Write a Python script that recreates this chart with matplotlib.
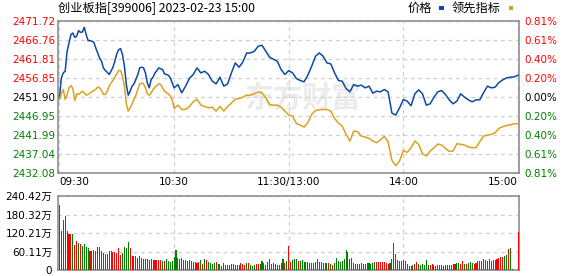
import numpy as np
import matplotlib
matplotlib.use("Agg")
import matplotlib.pyplot as plt
from matplotlib.patches import Rectangle

plt.rcParams['font.family'] = ['DejaVu Sans', 'Noto Sans CJK SC']

# minutes after 09:30 (lunch break removed): 1-min reads in the first hour, 2-min after
t_price = np.r_[0:61, 62:241:2]

price = [
    2451.73, 2456.94, 2458.24, 2458.68, 2463.89, 2466.06, 2468.24, 2468.67, 2467.54, 2467.80,
    2469.28, 2468.85, 2468.93, 2470.15, 2468.24, 2466.67, 2466.67, 2466.50, 2466.24, 2464.76,
    2463.46, 2462.15, 2461.29, 2459.55, 2458.85, 2458.42, 2457.81, 2458.68, 2459.72, 2461.29,
    2463.20, 2464.33, 2464.59, 2463.02, 2459.98, 2455.20, 2452.42, 2453.46, 2454.77, 2455.38,
    2456.51, 2457.81, 2459.55, 2459.72, 2459.55, 2458.24, 2455.64, 2454.33, 2456.51, 2457.11,
    2458.24, 2458.85, 2459.55, 2459.29, 2459.11, 2457.98, 2457.81, 2457.64, 2456.94, 2455.64,
    2454.33,
    2455.20, 2453.03, 2454.77, 2456.77, 2457.81, 2459.55, 2458.24, 2458.68, 2457.81, 2456.07,
    2455.38, 2457.11, 2454.77, 2455.38, 2458.24, 2460.85, 2459.72, 2461.11, 2463.46, 2463.46,
    2463.89, 2465.20, 2465.46, 2463.89, 2462.33, 2461.81, 2461.29, 2459.11, 2457.81, 2458.85,
    2458.24, 2456.77, 2456.25, 2455.90, 2457.64, 2459.98, 2462.59, 2463.46, 2462.59, 2460.85,
    2460.59, 2458.24, 2456.25, 2456.07, 2454.16, 2453.29, 2455.20, 2454.77, 2455.03, 2454.33,
    2454.77, 2452.94, 2453.46, 2453.29, 2453.90, 2453.29, 2447.73, 2447.21, 2449.12, 2451.29,
    2450.86, 2449.64, 2452.77, 2453.81, 2452.77, 2449.81, 2450.16, 2451.90, 2453.29, 2453.64,
    2452.60, 2451.20, 2450.16, 2450.86, 2452.77, 2451.90, 2451.20, 2450.68, 2451.20, 2451.20,
    2453.12, 2454.77, 2454.33, 2454.51, 2455.72, 2456.42, 2456.94, 2457.11, 2457.20, 2457.64,
]

lead = [
    2451.29, 2452.77, 2453.90, 2451.29, 2452.60, 2454.33, 2454.94, 2454.16, 2451.03, 2452.77,
    2452.60, 2453.03, 2453.46, 2453.03, 2452.42, 2452.60, 2453.03, 2453.29, 2453.64, 2453.90,
    2454.51, 2454.33, 2453.64, 2452.60, 2452.60, 2453.46, 2454.77, 2455.64, 2456.25, 2457.11,
    2457.98, 2458.85, 2458.85, 2457.37, 2454.77, 2450.16, 2448.25, 2449.12, 2450.16, 2451.29,
    2452.42, 2453.90, 2455.38, 2455.55, 2455.38, 2454.33, 2452.77, 2452.42, 2453.03, 2453.90,
    2454.51, 2454.94, 2455.38, 2455.20, 2454.33, 2453.46, 2453.03, 2452.77, 2452.16, 2451.29,
    2448.95,
    2449.81, 2448.68, 2448.68, 2449.47, 2450.68, 2451.38, 2449.81, 2449.47, 2449.12, 2449.29,
    2448.25, 2449.47, 2448.25, 2449.47, 2450.34, 2451.38, 2451.55, 2451.90, 2452.42, 2452.42,
    2452.77, 2453.29, 2453.03, 2451.73, 2449.99, 2449.81, 2449.81, 2449.29, 2448.25, 2447.21,
    2446.95, 2445.03, 2444.60, 2444.08, 2445.21, 2447.38, 2448.42, 2448.60, 2448.68, 2448.68,
    2448.25, 2446.34, 2445.12, 2444.34, 2442.17, 2440.43, 2443.04, 2442.86, 2441.73, 2441.47,
    2441.12, 2440.43, 2439.99, 2440.69, 2441.65, 2440.26, 2435.39, 2434.00, 2435.22, 2438.00,
    2437.47, 2438.69, 2440.43, 2439.56, 2437.13, 2436.52, 2437.82, 2438.69, 2439.65, 2439.39,
    2438.52, 2437.74, 2437.82, 2439.73, 2439.56, 2439.39, 2438.86, 2438.69, 2438.69, 2440.26,
    2441.73, 2441.99, 2442.17, 2442.60, 2443.73, 2444.17, 2444.51, 2444.69, 2444.95, 2444.95,
]

# volume per minute (万手), 1 = up (red), 0 = down (green)
volume = [
    211.3, 127.4, 161.6, 174.0, 127.4, 118.1, 118.1, 118.1, 80.8, 93.2,
    89.1, 83.9, 76.7, 83.9, 74.6, 71.5, 61.1, 63.0, 65.3, 61.1,
    74.6, 74.6, 61.1, 55.9, 52.8, 50.8, 62.2, 61.1, 59.1, 59.1,
    55.9, 71.5, 49.7, 55.9, 74.6, 71.5, 90.1, 71.5, 46.6, 46.6,
    44.5, 38.3, 46.6, 40.4, 37.3, 37.3, 35.0, 32.1, 37.3, 32.1,
    33.2, 33.2, 31.1, 32.1, 28.0, 28.0, 37.3, 30.0, 24.9, 28.0,
    43.5,
    65.3, 40.4, 35.2, 40.4, 31.1, 31.1, 28.0, 31.1, 28.0, 25.9,
    25.9, 22.8, 25.9, 31.1, 18.6, 37.3, 31.1, 24.9, 21.8, 18.6,
    21.8, 24.9, 18.6, 18.6, 12.4, 21.8, 15.5, 15.5, 15.5, 18.6,
    18.6, 15.5, 15.5, 15.5, 21.8, 18.6, 15.5, 21.8, 21.8, 15.5,
    12.4, 15.5, 18.6, 18.6, 18.6, 28.0, 21.8, 15.5, 24.9, 34.2,
    18.6, 21.8, 18.6, 15.5, 15.5, 21.8, 34.2, 21.8, 28.0, 77.7,
    24.9, 33.2, 35.2, 37.3, 28.0, 28.0, 33.2, 24.9, 24.9, 24.9,
    21.8, 21.8, 21.8, 24.9, 37.3, 24.9, 24.9, 21.8, 21.8, 21.8,
    21.8, 18.6, 15.5, 21.8, 39.4, 28.0, 24.9, 28.0, 37.3, 65.3,
    59.1, 37.3, 40.4, 21.8, 18.6, 18.6, 18.6, 21.8, 18.6, 18.6,
    21.8, 21.8, 18.6, 21.8, 24.9, 24.9, 24.9, 24.9, 24.9, 24.9,
    21.8, 18.6, 21.8, 37.3, 87.0, 52.8, 31.1, 28.0, 28.0, 31.1,
    30.0, 18.6, 12.4, 12.4, 15.5, 18.6, 24.9, 18.6, 15.5, 18.6,
    15.5, 31.1, 15.5, 15.5, 18.6, 15.5, 12.4, 15.5, 15.5, 15.5,
    12.4, 15.5, 15.5, 15.5, 15.5, 18.6, 18.6, 21.8, 21.8, 18.6,
    28.0, 18.6, 18.6, 21.8, 24.9, 21.8, 18.6, 21.8, 28.0, 28.0,
    28.0, 37.3, 31.1, 28.0, 34.2, 28.0, 31.1, 31.1, 34.2, 40.4,
    43.5, 43.5, 46.6, 49.7, 68.4, 71.5, 2.0, 0.0, 0.0, 124.3,
]
vol_up = [
    1, 1, 1, 1, 1, 1, 1, 0, 1, 1,
    0, 1, 0, 0, 0, 0, 1, 1, 1, 0,
    0, 0, 1, 0, 0, 0, 0, 1, 1, 1,
    1, 1, 1, 0, 0, 0, 0, 1, 1, 0,
    1, 1, 1, 0, 1, 0, 0, 0, 0, 1,
    1, 1, 1, 1, 0, 1, 0, 0, 0, 0,
    0,
    0, 1, 1, 0, 1, 1, 1, 1, 1, 1,
    1, 1, 1, 0, 1, 0, 1, 0, 0, 0,
    0, 1, 0, 1, 0, 0, 1, 1, 0, 1,
    1, 0, 0, 0, 1, 1, 1, 0, 1, 0,
    0, 0, 1, 1, 0, 0, 1, 0, 0, 0,
    0, 0, 0, 0, 0, 0, 0, 1, 0, 1,
    1, 0, 0, 0, 1, 0, 0, 0, 0, 1,
    1, 1, 1, 1, 1, 1, 0, 1, 0, 0,
    1, 0, 1, 0, 0, 0, 0, 0, 0, 0,
    0, 1, 1, 1, 0, 0, 0, 0, 0, 0,
    0, 0, 0, 0, 0, 1, 1, 1, 1, 1,
    1, 1, 0, 0, 0, 1, 0, 1, 1, 1,
    1, 0, 1, 1, 0, 1, 1, 0, 0, 0,
    0, 0, 0, 1, 1, 0, 1, 1, 1, 1,
    0, 0, 0, 0, 0, 0, 1, 0, 0, 1,
    1, 0, 1, 0, 0, 0, 1, 1, 0, 1,
    1, 1, 1, 1, 0, 1, 0, 0, 1, 1,
    1, 1, 0, 0, 1, 0, 0, 0, 0, 1,
]

t_vol = np.arange(len(volume))

price_ticks = [2432.08, 2437.04, 2441.99, 2446.95, 2451.90,
               2456.85, 2461.81, 2466.76, 2471.72]
pct_labels = ["0.81%", "0.61%", "0.40%", "0.20%", "0.00%",
              "0.20%", "0.40%", "0.61%", "0.81%"]
vol_ticks = [0, 60.11, 120.21, 180.32, 240.42]
vol_labels = ["0", "60.11万", "120.21万", "180.32万", "240.42万"]
time_ticks = [0, 60, 120, 180, 240]
time_labels = ["09:30", "10:30", "11:30/13:00", "14:00", "15:00"]

BLUE = "#0b4aa6"
GOLD = "#dca21e"
RED = "#ff0000"
GREEN = "#008000"
GRID = "#cfcfcf"
FRAME = "#8f8f8f"
dash = (0, (3, 3))

fig = plt.figure(figsize=(5.78, 2.76), dpi=100)

def tick_color(i):
    if i > 4:
        return RED
    if i < 4:
        return GREEN
    return "black"

# price panel
ax = fig.add_axes([0.1012, 0.3732, 0.7967, 0.5496])
ax.text(0.53, 0.5, "东方财富", transform=ax.transAxes, ha="center", va="center",
        fontsize=21, fontweight="bold", color="#ebebeb",
        family=["Noto Sans CJK SC", "DejaVu Sans"], zorder=0)
ax.plot(t_price, price, color=BLUE, lw=1.1, zorder=3)
ax.plot(t_price, lead, color=GOLD, lw=1.1, zorder=3)
ax.set_xlim(-0.5, 240.5)
ax.set_ylim(price_ticks[0], price_ticks[-1])
ax.set_yticks(price_ticks)
ax.set_yticklabels([f"{v:.2f}" for v in price_ticks])
for i, lab in enumerate(ax.get_yticklabels()):
    lab.set_color(tick_color(i))
ax.set_xticks(time_ticks)
ax.set_xticklabels(time_labels)
xl = ax.get_xticklabels()
xl[0].set_ha("left")
xl[-1].set_ha("right")
ax.tick_params(length=0, labelsize=7.5, pad=2.5)
ax.tick_params(axis="x", pad=3)
ax.grid(True, color=GRID, lw=0.9, ls=dash)
for s in ax.spines.values():
    s.set_color(FRAME)
    s.set_linewidth(1.2)

ax2 = ax.twinx()
ax2.set_ylim(price_ticks[0], price_ticks[-1])
ax2.set_yticks(price_ticks)
ax2.set_yticklabels(pct_labels)
for i, lab in enumerate(ax2.get_yticklabels()):
    lab.set_color(tick_color(i))
ax2.tick_params(length=0, labelsize=7.5, pad=4)
for s in ax2.spines.values():
    s.set_visible(False)

# volume panel
axv = fig.add_axes([0.1012, 0.0217, 0.7967, 0.2681])
bar_colors = [RED if u else GREEN for u in vol_up]
axv.bar(t_vol, volume, width=0.55, color=bar_colors, zorder=3, antialiased=False)
axv.set_xlim(-0.5, 240.5)
axv.set_ylim(0, vol_ticks[-1])
axv.set_yticks(vol_ticks)
axv.set_yticklabels(vol_labels)
axv.set_xticks([60, 120, 180])
axv.set_xticklabels([])
axv.tick_params(length=0, labelsize=7.5, pad=4.5)
axv.grid(True, color=GRID, lw=0.9, ls=dash)
for s in axv.spines.values():
    s.set_color(FRAME)
    s.set_linewidth(1.2)

# title and legend
W, H = 578, 276
cjk = ["Noto Sans CJK SC", "DejaVu Sans"]
fig.text(58 / W, 1 - 8.5 / H, "创业板指[399006] 2023-02-23 15:00",
         ha="left", va="center", fontsize=8.8, family=cjk)
fig.text(408 / W, 1 - 8.5 / H, "价格", ha="left", va="center", fontsize=8.8, family=cjk)
fig.text(452 / W, 1 - 8.5 / H, "领先指标", ha="left", va="center", fontsize=8.8, family=cjk)
fig.add_artist(Rectangle((439 / W, 1 - 9.5 / H), 4.5 / W, 3 / H,
                         transform=fig.transFigure, color=BLUE, lw=0))
fig.add_artist(Rectangle((508.5 / W, 1 - 9.5 / H), 4.5 / W, 3 / H,
                         transform=fig.transFigure, color=GOLD, lw=0))

fig.savefig("out.png", dpi=100)
